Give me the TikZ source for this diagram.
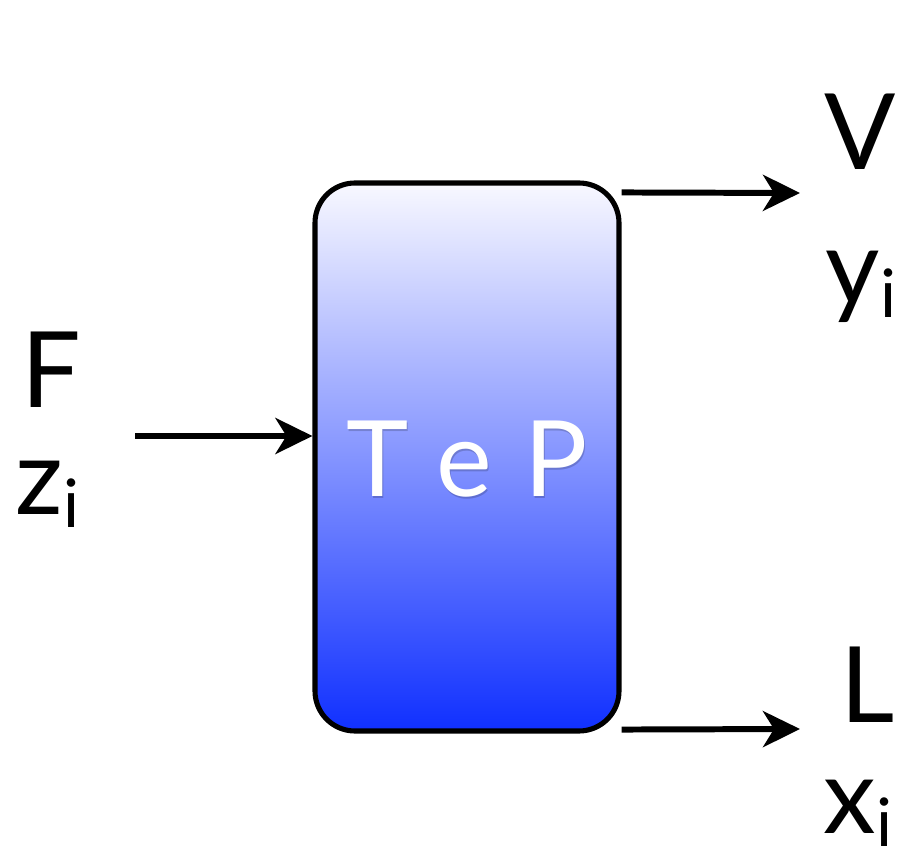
\documentclass[tikz,border=0pt]{standalone}
\usepackage{fontspec}
\setmainfont{Lato}
\usetikzlibrary{calc, arrows.meta}

\definecolor{toplight}{RGB}{248,248,255}
\definecolor{bottomblue}{RGB}{16,48,255}
\newcommand{\bigfont}{\fontsize{60}{60}\selectfont}
\newcommand{\subi}{\raisebox{-0.12em}{\fontsize{38}{38}\selectfont i}}

\begin{document}
\begin{tikzpicture}[thick,
  flow/.style={line width=3.4pt, -{Stealth[length=0.74cm, width=0.72cm, inset=0.22cm]}},
  lbl/.style={font=\bigfont, inner sep=0pt, anchor=base}]
  \useasboundingbox (0,0) rectangle (18,17.22);
  % the unit, shaded from light at the top to blue at the bottom
  \node[draw, line width=2.9pt, rounded corners=0.8cm, minimum width=6.08cm,
        minimum height=10.96cm, top color=toplight, bottom color=bottomblue,
        inner sep=0pt] (tep) at (9.34,8.08) {};
  \node[font=\bigfont, text=black, opacity=0.18, inner sep=0pt, anchor=base]
    (tepshadow) at (9.37,7.25) {T\hspace{0.55cm}e\hspace{0.65cm}P};
  \node[font=\bigfont, text=white, inner sep=0pt, anchor=base]
    (teptext) at (9.34,7.28) {T\hspace{0.55cm}e\hspace{0.65cm}P};
  % feed
  \coordinate (feed) at (2.7,8.5);
  \draw[flow] (feed) -- (feed -| tep.west);
  \node[lbl] (F) at (1.02,9.06) {F};
  \node[lbl] (zi) at (0.95,6.92) {z\subi};
  % vapour and liquid streams
  \coordinate (vapout) at ($(tep.north east)+(0,-0.24)$);
  \coordinate (vapend) at (16.0,13.36);
  \draw[flow] (vapout) -- (vapend);
  \node[lbl] (V) at (17.2,13.82) {V};
  \node[lbl] (yi) at (17.22,11.12) {y\subi};
  \coordinate (liqout) at ($(tep.south east)+(0,0.08)$);
  \coordinate (liqend) at (16.0,2.64);
  \draw[flow] (liqout) -- (liqend);
  \node[lbl] (L) at (17.36,2.78) {L};
  \node[lbl] (xi) at (17.16,0.55) {x\subi};
\end{tikzpicture}
\end{document}
